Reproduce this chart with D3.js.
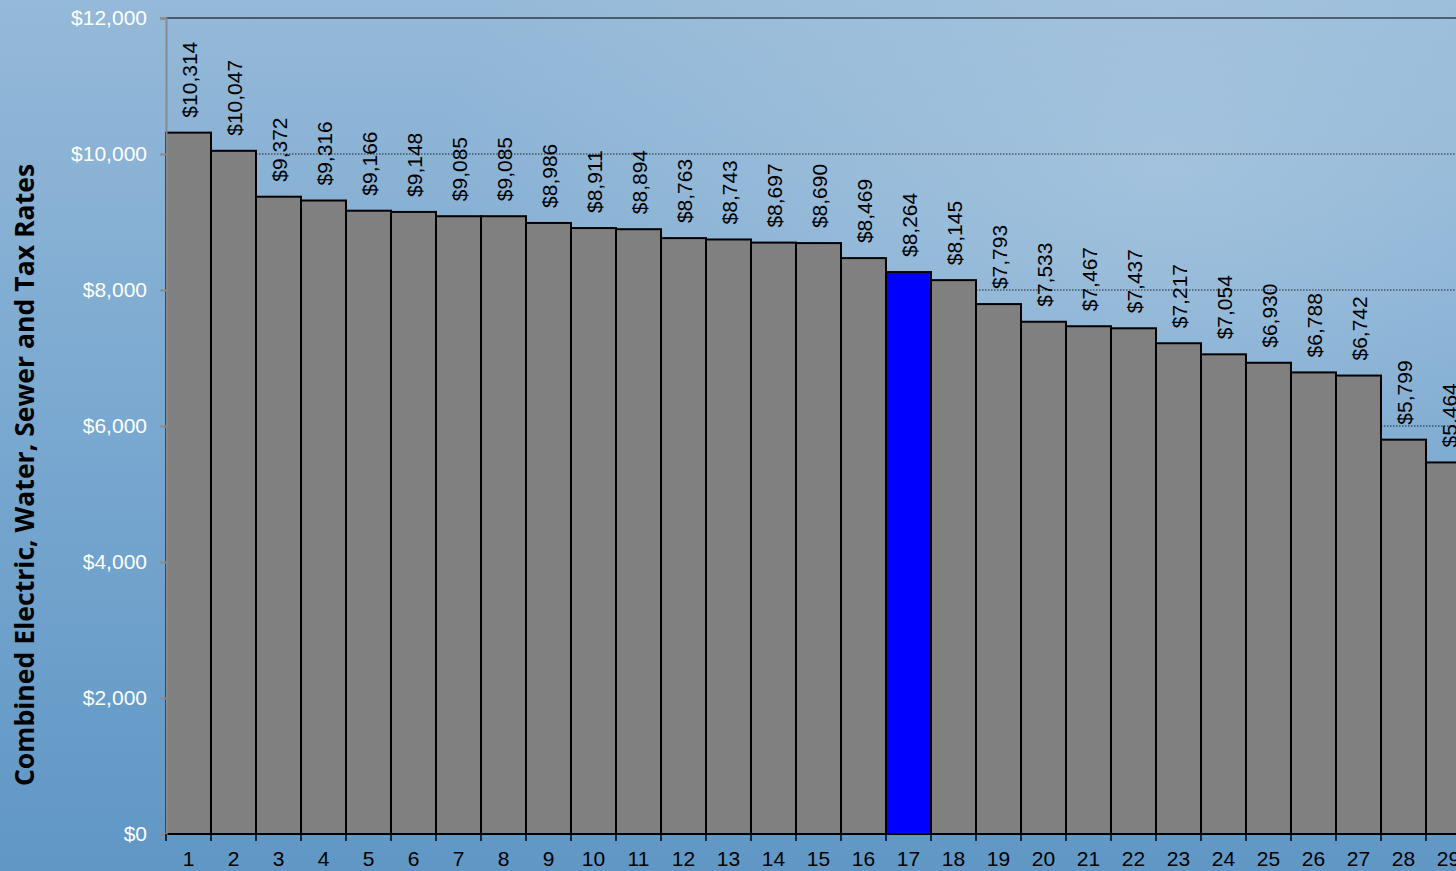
<!DOCTYPE html>
<html><head><meta charset="utf-8">
<script src="https://cdn.jsdelivr.net/npm/d3@7"></script>
<style>html,body{margin:0;padding:0;overflow:hidden;}svg{display:block;}</style>
</head><body>
<svg id="c" width="1456" height="871"></svg>
<script>
const categories = ["1","2","3","4","5","6","7","8","9","10","11","12","13","14","15","16","17","18","19","20","21","22","23","24","25","26","27","28","29"];
const values = [10314,10047,9372,9316,9166,9148,9085,9085,8986,8911,8894,8763,8743,8697,8690,8469,8264,8145,7793,7533,7467,7437,7217,7054,6930,6788,6742,5799,5464];
const highlight = "17";
const yTicks = [0,2000,4000,6000,8000,10000,12000];
const yTitle = "Combined Electric, Water, Sewer and Tax Rates";

(function(){
const svg = d3.select("#c");
const W = 1456, H = 871;
const defs = svg.append("defs");
const lg = defs.append("linearGradient").attr("id","bg").attr("x1",0).attr("y1",0).attr("x2",0).attr("y2",1);
lg.append("stop").attr("offset","0%").attr("stop-color","#95b9d8");
lg.append("stop").attr("offset","55%").attr("stop-color","#76a6cf");
lg.append("stop").attr("offset","100%").attr("stop-color","#6097c5");
const rg = defs.append("radialGradient").attr("id","hl").attr("cx","0.8").attr("cy","0.2").attr("r","0.5");
rg.append("stop").attr("offset","0%").attr("stop-color","#c0d6e8").attr("stop-opacity",0.45);
rg.append("stop").attr("offset","100%").attr("stop-color","#c0d6e8").attr("stop-opacity",0);
svg.append("rect").attr("width",W).attr("height",H).attr("fill","url(#bg)");
svg.append("rect").attr("width",W).attr("height",H).attr("fill","url(#hl)");

const mLeft = 166, mTop = 18, mBottom = 834, bw = 45;
const x = d3.scaleBand().domain(categories).range([mLeft, mLeft + bw*categories.length]).padding(0);
const y = d3.scaleLinear().domain([0,12000]).range([mBottom, mTop]);

// gridlines
svg.append("g").selectAll("line").data(yTicks.filter(d=>d>0)).join("line")
  .attr("x1",mLeft).attr("x2",W).attr("y1",d=>y(d)).attr("y2",d=>y(d))
  .attr("stroke","#000").attr("stroke-width",d=>d===12000?1.2:0.8)
  .attr("stroke-dasharray",d=>d===12000?null:"1.5,1.5");

// bars
svg.append("g").selectAll("rect").data(values).join("rect")
  .attr("x",(d,i)=>x(categories[i])).attr("width",x.bandwidth())
  .attr("y",d=>y(d)).attr("height",d=>y(0)-y(d))
  .attr("fill",(d,i)=>categories[i]===highlight?"#0000ff":"#808080")
  .attr("stroke","#000").attr("stroke-width",2);

// value labels
svg.append("g").selectAll("text").data(values).join("text")
  .attr("transform",(d,i)=>`translate(${x(categories[i])+x.bandwidth()/2+8},${y(d)-15}) rotate(-90)`)
  .attr("font-family","Liberation Sans, Arial, sans-serif").attr("font-size",21).attr("fill","#000")
  .text(d=>"$"+d3.format(",")(d));

// y axis
const ya = svg.append("g").attr("transform",`translate(${mLeft},0)`)
  .call(d3.axisLeft(y).tickValues(yTicks).tickSize(6).tickPadding(13).tickFormat(d=>"$"+d3.format(",")(d)));
ya.select(".domain").attr("stroke","#8a8a8a").attr("stroke-width",2);
ya.selectAll(".tick line").attr("stroke","#8a8a8a").attr("stroke-width",2);
ya.selectAll(".tick text").attr("fill","#fff").attr("font-size",21).attr("font-family","Liberation Sans, Arial, sans-serif");

// x axis
const xa = svg.append("g").attr("transform",`translate(0,${mBottom})`)
  .call(d3.axisBottom(x).tickSize(0).tickPadding(17));
xa.select(".domain").remove();
xa.selectAll(".tick text").attr("fill","#000").attr("font-size",21).attr("font-family","Liberation Sans, Arial, sans-serif");
svg.append("g").selectAll("line").data(categories).join("line")
  .attr("x1",d=>x(d)).attr("x2",d=>x(d)).attr("y1",mBottom).attr("y2",mBottom+7)
  .attr("stroke","#000").attr("stroke-width",1.5);

// y title
svg.append("text").attr("transform",`translate(34,${(165+785)/2}) rotate(-90)`)
  .attr("text-anchor","middle").attr("font-family","Open Sans, Lato, sans-serif").attr("font-weight","bold")
  .attr("font-size",26.6).attr("fill","#000").text(yTitle);
})();
</script>
</body></html>
